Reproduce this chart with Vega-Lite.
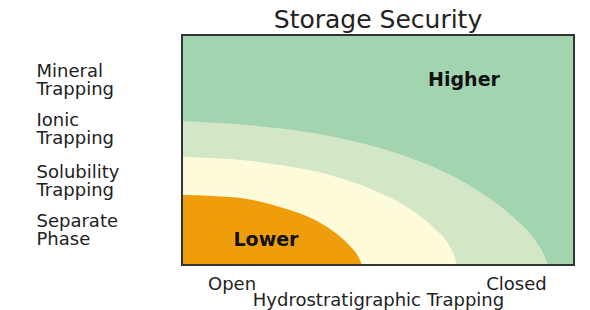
{
  "$schema": "https://vega.github.io/schema/vega-lite/v6.json",
  "width": 392,
  "height": 230,
  "autosize": "none",
  "padding": {"left": 182, "top": 35, "right": 16, "bottom": 45},
  "background": "white",
  "config": {
    "view": {"stroke": null, "fill": "#a3d4b0"},
    "font": "DejaVu Sans"
  },
  "title": {
    "text": "Storage Security",
    "font": "DejaVu Sans",
    "fontSize": 25,
    "fontWeight": "normal",
    "color": "#222222",
    "baseline": "alphabetic",
    "offset": 8,
    "dy": 27,
    "frame": "group",
    "anchor": "middle"
  },
  "datasets": {
    "lightgreen": [
      {"x": 0, "y": 144}, {"x": 65, "y": 140}, {"x": 131, "y": 132}, {"x": 198, "y": 117},
      {"x": 258, "y": 95}, {"x": 298, "y": 73}, {"x": 331, "y": 48}, {"x": 355, "y": 22},
      {"x": 363, "y": 8}, {"x": 366, "y": 0}
    ],
    "yellow": [
      {"x": 0, "y": 108}, {"x": 48, "y": 106}, {"x": 98, "y": 100}, {"x": 148, "y": 90},
      {"x": 191, "y": 75}, {"x": 225, "y": 58}, {"x": 251, "y": 38}, {"x": 268, "y": 18},
      {"x": 273, "y": 7}, {"x": 275, "y": 0}
    ],
    "orange": [
      {"x": 0, "y": 70}, {"x": 31, "y": 69}, {"x": 65, "y": 66}, {"x": 98, "y": 58},
      {"x": 131, "y": 46}, {"x": 151, "y": 34}, {"x": 168, "y": 19}, {"x": 176, "y": 9},
      {"x": 180, "y": 0}
    ],
    "labels": [
      {"x": 282, "y": 185, "text": "Higher"},
      {"x": 84, "y": 25, "text": "Lower"}
    ],
    "frame": [
      {"x": 0, "y": 0, "x2": 392, "y2": 230}
    ]
  },
  "encoding": {
    "x": {
      "field": "x",
      "type": "quantitative",
      "scale": {"domain": [0, 392], "nice": false, "zero": false},
      "axis": {
        "values": [49.5, 334],
        "labelExpr": "datum.value < 200 ? 'Open' : 'Closed'",
        "domain": false,
        "ticks": false,
        "tickSize": 0,
        "grid": false,
        "labelFont": "DejaVu Sans",
        "labelFontSize": 18,
        "labelColor": "#222222",
        "labelBaseline": "alphabetic",
        "labelPadding": 24,
        "labelFlush": false,
        "labelOverlap": false,
        "title": "Hydrostratigraphic Trapping",
        "titleFont": "DejaVu Sans",
        "titleFontSize": 18,
        "titleFontWeight": "normal",
        "titleColor": "#222222",
        "titleBaseline": "alphabetic",
        "titleY": 40
      }
    },
    "y": {
      "field": "y",
      "type": "quantitative",
      "scale": {"domain": [0, 230], "nice": false, "zero": false},
      "axis": {
        "values": [43.7, 92.7, 144.7, 193.7],
        "labelExpr": "datum.value > 170 ? ['Mineral','Trapping'] : datum.value > 120 ? ['Ionic','Trapping'] : datum.value > 70 ? ['Solubility','Trapping'] : ['Separate','Phase']",
        "domain": false,
        "ticks": false,
        "tickSize": 0,
        "grid": false,
        "labelFont": "DejaVu Sans",
        "labelFontSize": 18,
        "labelLineHeight": 18.5,
        "labelColor": "#222222",
        "labelAlign": "left",
        "labelBaseline": "middle",
        "labelPadding": 146,
        "labelLimit": 300,
        "labelFlush": false,
        "labelOverlap": false,
        "labelBound": false,
        "title": null
      }
    }
  },
  "layer": [
    {
      "data": {"name": "lightgreen"},
      "mark": {"type": "area", "interpolate": "monotone", "color": "#d3e7c6"},
      "encoding": {"y2": {"datum": 0}}
    },
    {
      "data": {"name": "yellow"},
      "mark": {"type": "area", "interpolate": "monotone", "color": "#fefbda"},
      "encoding": {"y2": {"datum": 0}}
    },
    {
      "data": {"name": "orange"},
      "mark": {"type": "area", "interpolate": "monotone", "color": "#f09d0b"},
      "encoding": {"y2": {"datum": 0}}
    },
    {
      "data": {"name": "labels"},
      "mark": {"type": "text", "font": "DejaVu Sans", "fontWeight": "bold", "fontSize": 19, "color": "#111111", "align": "center", "baseline": "middle"},
      "encoding": {"text": {"field": "text"}}
    },
    {
      "data": {"name": "frame"},
      "mark": {"type": "rect", "fill": null, "fillOpacity": 0, "stroke": "#333333", "strokeWidth": 2},
      "encoding": {
        "x2": {"field": "x2"},
        "y2": {"field": "y2"}
      }
    }
  ]
}
